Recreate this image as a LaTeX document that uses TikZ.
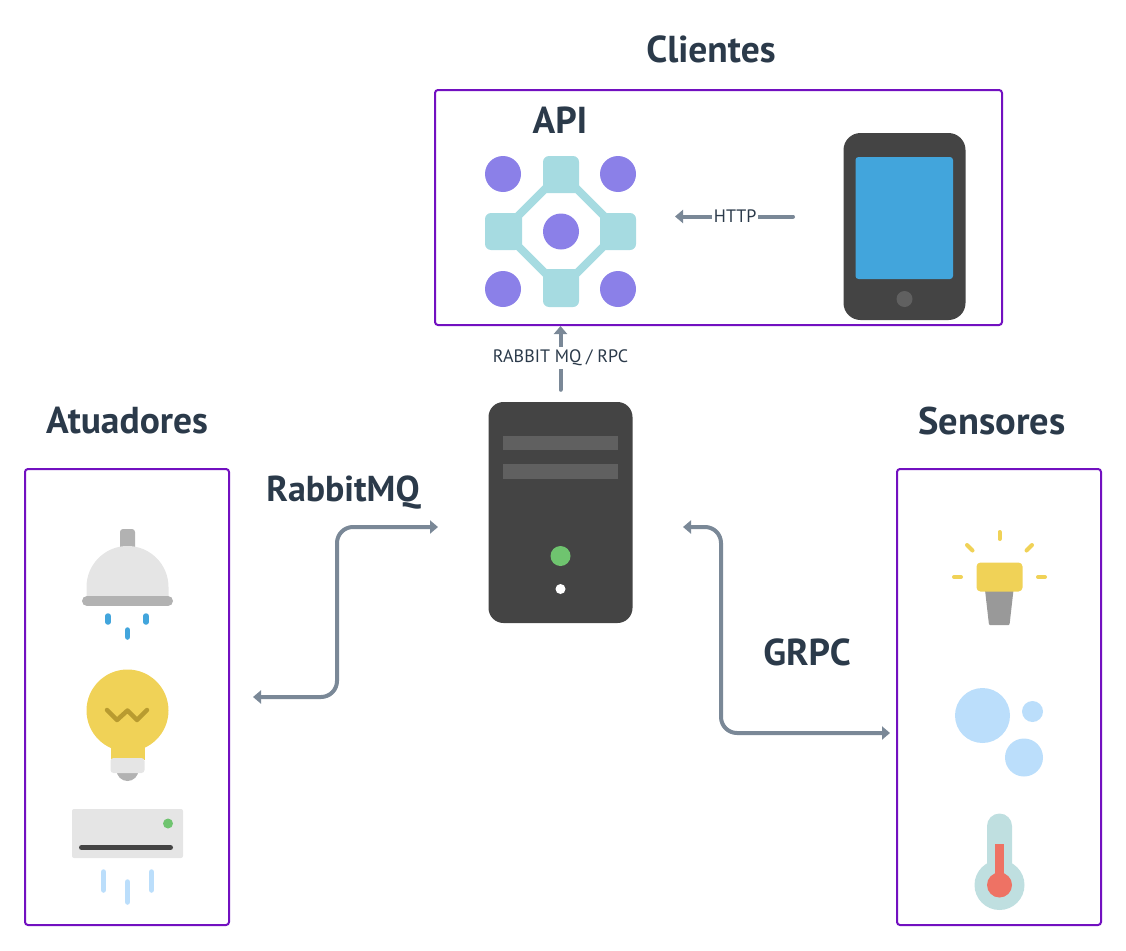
\documentclass[tikz,border=0pt]{standalone}
\usepackage{fontspec}
\setmainfont{PT Sans}
\usetikzlibrary{arrows.meta,positioning}
\definecolor{framepurple}{HTML}{7210C0}
\definecolor{linkgray}{HTML}{7A8897}
\definecolor{inkblue}{HTML}{2B3A4A}
\definecolor{darkbody}{HTML}{444444}
\definecolor{slotgray}{HTML}{606060}
\definecolor{apiviolet}{HTML}{8B80E8}
\definecolor{apiteal}{HTML}{A6DBE1}
\definecolor{screenblue}{HTML}{42A5DC}
\definecolor{ledgreen}{HTML}{6FC46F}
\definecolor{paleblue}{HTML}{BBDEFB}
\definecolor{lampyellow}{HTML}{F0D257}
\definecolor{filament}{HTML}{B89B30}
\definecolor{metal}{HTML}{B2B2B2}
\definecolor{shell}{HTML}{E5E5E5}
\definecolor{basegray}{HTML}{999999}
\definecolor{tubeteal}{HTML}{BFDFE0}
\definecolor{heatred}{HTML}{EE7264}
\tikzset{
  groupbox/.style={draw=framepurple,line width=2pt,rounded corners=3pt,inner sep=0pt},
  darkbox/.style={fill=darkbody,rounded corners=#1,inner sep=0pt},
  title/.style={text=inkblue,font=\fontsize{#1}{#1}\selectfont\bfseries,inner sep=0pt},
  title/.default=37.5,
  link/.style={draw=linkgray,line width=4pt,line cap=round,>={Triangle[length=8pt,width=13pt]}},
  linklabel/.style={fill=white,text=inkblue,font=\fontsize{18}{18}\selectfont,inner xsep=2pt,inner ysep=3pt},
  stroke/.style={line width=#1,line cap=round},
}
\begin{document}
\begin{tikzpicture}[x=1pt,y=-1pt]
\useasboundingbox (0,0) rectangle (1126,950);
\node[groupbox,minimum width=567pt,minimum height=235pt] (clientes) at (718.5,207.5) {};
\node[groupbox,minimum width=204pt,minimum height=456pt] (atuadores) at (127,697) {};
\node[groupbox,minimum width=204pt,minimum height=456pt] (sensores) at (999,697) {};
\node[title] (clientestitle) at (711,49) {Clientes};
\node[title] (apititle) at (560,120) {API};
\node[title] (atuadorestitle) at (127,421) {Atuadores};
\node[title=38.5] (sensorestitle) at (992,421) {Sensores};
\node[title=36] (rabbittitle) at (343,493) {RabbitMQ};
\node[title] (grpctitle) at (807,652) {GRPC};
\draw[apiteal,line width=8pt] (545,189) -- (577,189) -- (604,216) -- (604,246) -- (577,273) -- (545,273) -- (518,246) -- (518,216) -- cycle;
\fill[apiteal,rounded corners=6pt] (543,156) rectangle (579,192);
\fill[apiteal,rounded corners=6pt] (485,213) rectangle (521,250);
\fill[apiteal,rounded corners=6pt] (600,213) rectangle (636,250);
\fill[apiteal,rounded corners=6pt] (543,271) rectangle (579,307);
\fill[apiviolet] (503,174) circle[radius=18];
\fill[apiviolet] (618,174) circle[radius=18];
\fill[apiviolet] (561,231.5) circle[radius=18];
\fill[apiviolet] (503,289) circle[radius=18];
\fill[apiviolet] (618,289) circle[radius=18];
\node[darkbox=17pt,minimum width=122pt,minimum height=187pt] (phone) at (904.5,226.5) {};
\fill[screenblue,rounded corners=3pt] (855.5,157) rectangle (953,279);
\fill[slotgray] (904.5,299) circle[radius=8];
\node[darkbox=15pt,minimum width=144pt,minimum height=221pt] (server) at (560.5,512.5) {};
\fill[slotgray] (503,436) rectangle (618,450);
\fill[slotgray] (503,464) rectangle (618,479);
\fill[ledgreen] (560.5,556) circle[radius=10];
\fill[white] (560.5,589) circle[radius=5];
\fill[metal,rounded corners=3pt] (120,529) rectangle (135,552);
\fill[shell] (86.5,600) -- (86.5,587) arc[start angle=180,end angle=360,radius=41] -- (168.5,600) -- cycle;
\draw[metal,stroke=10pt] (87,601) -- (168,601);
\draw[screenblue,stroke=5.5pt] (108,616) -- (108,622);
\draw[screenblue,stroke=5.5pt] (146,616) -- (146,622);
\draw[screenblue,stroke=5.5pt] (127.5,630) -- (127.5,637);
\fill[metal] (116.5,770) -- (116.5,770) arc[start angle=180,end angle=0,radius=11] -- (138.5,770) -- cycle;
\fill[lampyellow] (127.5,710.5) circle[radius=41];
\fill[lampyellow] (110.5,740) rectangle (144.5,760);
\fill[shell,rounded corners=3pt] (110.5,758) rectangle (144.5,773);
\draw[filament,stroke=4.5pt,line join=round] (107,710) -- (117,720) -- (127.5,710.5) -- (137,720) -- (147,710);
\fill[shell,rounded corners=2pt] (72,809) rectangle (183,858);
\fill[ledgreen] (168,823.5) circle[radius=5];
\draw[darkbody,stroke=5pt] (81.5,847.5) -- (170.5,847.5);
\draw[paleblue,stroke=5.5pt] (103.5,872) -- (103.5,890);
\draw[paleblue,stroke=5.5pt] (151.5,872) -- (151.5,890);
\draw[paleblue,stroke=5.5pt] (127.5,882) -- (127.5,902);
\draw[lampyellow,stroke=4pt] (999.5,532) -- (999.5,539);
\draw[lampyellow,stroke=4pt] (967,545) -- (972.5,550.5);
\draw[lampyellow,stroke=4pt] (1032,545) -- (1026.5,550.5);
\draw[lampyellow,stroke=4pt] (954,577) -- (961,577);
\draw[lampyellow,stroke=4pt] (1038,577) -- (1045,577);
\fill[basegray,rounded corners=1pt] (985,590) -- (1013.5,590) -- (1009.5,625) -- (989,625) -- cycle;
\fill[lampyellow,rounded corners=4pt] (976.5,562.5) rectangle (1022.5,591.5);
\fill[paleblue] (982.5,715.5) circle[radius=27.5];
\fill[paleblue] (1032.5,711.5) circle[radius=10.5];
\fill[paleblue] (1024,757.5) circle[radius=19];
\fill[tubeteal] (987,826) arc[start angle=180,end angle=360,radius=12.5] -- (1012,870) -- (987,870) -- cycle;
\fill[tubeteal] (999.5,885) circle[radius=25];
\fill[heatred] (995.3,843.5) rectangle (1003.7,880);
\fill[heatred] (999.5,885) circle[radius=12.5];
\coordinate (httpstart) at (793,216.5);
\coordinate (httpend) at (675,216.5);
\coordinate (serverleft) at (438,527);
\coordinate (rabbitbend) at (337,697);
\coordinate (serverright) at (683,527);
\coordinate (grpcbend) at (721,733);
\coordinate (sensorport) at (890,733);
\draw[link,->] (httpstart) -- node[linklabel,pos=0.49] {HTTP} (httpend);
\draw[link,->,shorten <=12pt] (server.north) -- node[linklabel,pos=0.58] {RABBIT MQ / RPC} (server.north |- clientes.south);
\draw[link,<->,rounded corners=16pt,shorten <=23pt] (atuadores.east) -- (rabbitbend) -- (rabbitbend |- serverleft) -- (serverleft);
\draw[link,<->,rounded corners=16pt] (serverright) -- (grpcbend |- serverright) -- (grpcbend) -- (sensorport);
\end{tikzpicture}
\end{document}
